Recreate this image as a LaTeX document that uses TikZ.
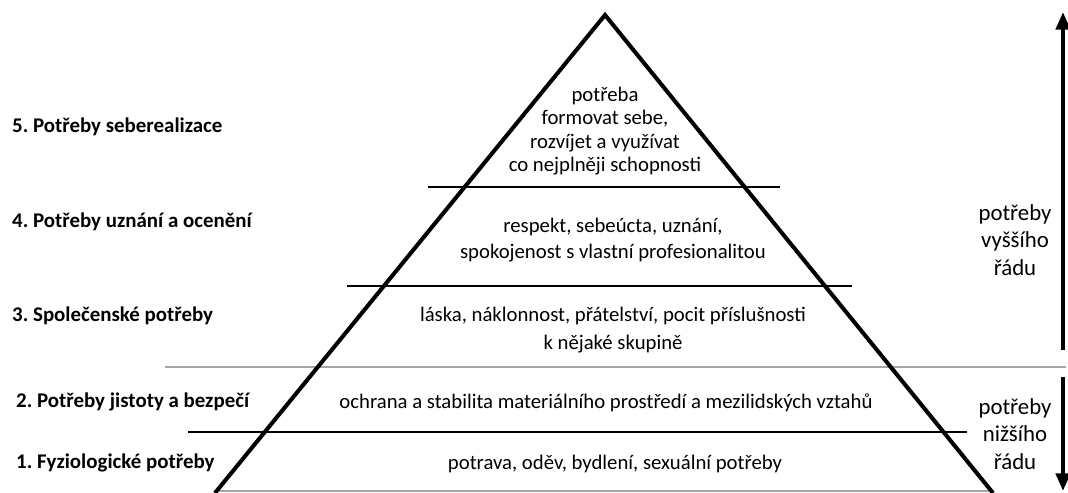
\documentclass[tikz,border=0pt]{standalone}
\usepackage{fontspec}
\setmainfont{Carlito}
\usetikzlibrary{arrows.meta}
\frenchspacing

\tikzset{
  need/.style={font=\fontsize{11.8}{13.2}\selectfont, align=center},
  levelname/.style={font=\fontsize{11.9}{13.5}\selectfont\bfseries, anchor=west},
  order/.style={font=\fontsize{13}{15.8}\selectfont, align=center},
  divider/.style={line width=1pt},
  greyline/.style={line width=1pt, black!35},
  bigarrow/.style={line width=2.3pt, -{Triangle[length=10pt, width=8pt]}}
}

\begin{document}
\begin{tikzpicture}[x=0.02cm, y=-0.02cm]
    \useasboundingbox (0,0) rectangle (1068,493);

    % Levels of the pyramid
    \draw[divider] (428,187) -- (780,187);
    \draw[divider] (347,286) -- (852,286);
    \draw[greyline] (165,367) -- (1066,367);
    \draw[divider] (188,432) -- (967,432);
    \draw[greyline] (215,491) -- (993,491);

    % Pyramid
    \draw[line width=2.3pt, line join=miter] (215,493) -- (605,15) -- (993,493);

    % Names of the levels
    \node[levelname] (n5) at (6,127) {5. Potřeby seberealizace};
    \node[levelname] (n4) at (6,222) {4. Potřeby uznání a ocenění};
    \node[levelname] (n3) at (6,316) {3. Společenské potřeby};
    \node[levelname] (n2) at (10,402) {2. Potřeby jistoty a bezpečí};
    \node[levelname] (n1) at (10,463) {1. Fyziologické potřeby};

    % Contents of the levels
    \node[need] (c5) at (605,131) {potřeba\\formovat sebe,\\rozvíjet a využívat\\co nejplněji schopnosti};
    \node[need] (c4) at (613,240) {respekt, sebeúcta, uznání,\\[1.5pt]spokojenost s vlastní profesionalitou};
    \node[need] (c3) at (613,330) {láska, náklonnost, přátelství, pocit příslušnosti\\[3pt]k nějaké skupině};
    \node[need] (c2) at (606,403) {ochrana a stabilita materiálního prostředí a mezilidských vztahů};
    \node[need] (c1) at (615,464) {potrava, oděv, bydlení, sexuální potřeby};

    % Higher and lower order
    \coordinate (hitop) at (1063,12);
    \coordinate (hibot) at (1063,350);
    \coordinate (lotop) at (1063,377);
    \coordinate (lobot) at (1063,491);
    \draw[bigarrow] (hibot) -- (hitop);
    \draw[bigarrow] (lotop) -- (lobot);
    \node[order] (hi) at (1015,240) {potřeby\\vyššího\\řádu};
    \node[order] (lo) at (1015,434) {potřeby\\nižšího\\řádu};
\end{tikzpicture}
\end{document}
